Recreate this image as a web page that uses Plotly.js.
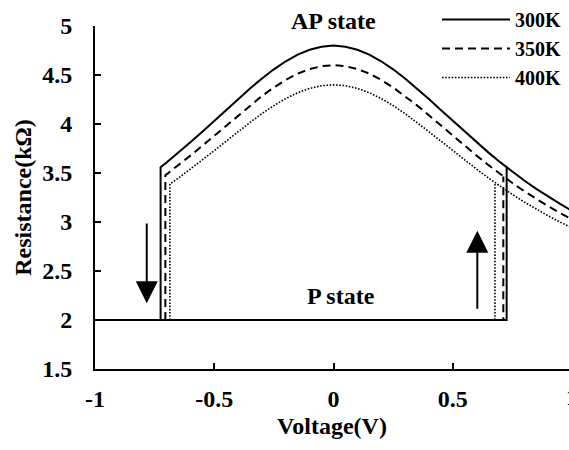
<!DOCTYPE html>
<html>
<head>
<meta charset="utf-8">
<script src="https://cdn.plot.ly/plotly-3.0.1.min.js"></script>
<style>
  html, body { margin: 0; padding: 0; background: #fff; }
  #chart { width: 569px; height: 450px; }
</style>
</head>
<body>
<div id="chart"></div>
<script>
// MTJ resistance vs bias voltage: AP branch and P branch for three temperatures
const temps = ['300K', '350K', '400K'];

// AP-state branch (kOhm) from the AP->P switching voltage up to +1 V
const v300 = [-0.725,-0.70,-0.65,-0.60,-0.55,-0.50,-0.45,-0.40,-0.35,-0.30,-0.25,-0.20,-0.15,-0.10,-0.05,0,0.05,0.10,0.15,0.20,0.25,0.30,0.35,0.40,0.45,0.50,0.55,0.60,0.65,0.70,0.726,0.75,0.80,0.85,0.90,0.95,1.00];
const r300 = [3.560,3.608,3.708,3.813,3.921,4.032,4.143,4.254,4.362,4.465,4.558,4.640,4.708,4.758,4.789,4.800,4.789,4.758,4.708,4.640,4.558,4.465,4.362,4.254,4.143,4.032,3.921,3.813,3.708,3.608,3.558,3.513,3.423,3.338,3.258,3.184,3.114];

const v350 = [-0.705,-0.70,-0.65,-0.60,-0.55,-0.50,-0.45,-0.40,-0.35,-0.30,-0.25,-0.20,-0.15,-0.10,-0.05,0,0.05,0.10,0.15,0.20,0.25,0.30,0.35,0.40,0.45,0.50,0.55,0.60,0.65,0.70,0.712,0.75,0.80,0.85,0.90,0.95,1.00];
const r350 = [3.477,3.486,3.580,3.677,3.778,3.881,3.985,4.089,4.190,4.286,4.373,4.450,4.514,4.561,4.590,4.600,4.590,4.561,4.514,4.450,4.373,4.286,4.190,4.089,3.985,3.881,3.778,3.677,3.580,3.486,3.465,3.398,3.314,3.235,3.161,3.092,3.028];

const v400 = [-0.686,-0.65,-0.60,-0.55,-0.50,-0.45,-0.40,-0.35,-0.30,-0.25,-0.20,-0.15,-0.10,-0.05,0,0.05,0.10,0.15,0.20,0.25,0.30,0.35,0.40,0.45,0.50,0.55,0.60,0.65,0.677,0.70,0.75,0.80,0.85,0.90,0.95,1.00];
const r400 = [3.387,3.449,3.539,3.633,3.729,3.826,3.922,4.016,4.106,4.188,4.260,4.319,4.363,4.391,4.400,4.391,4.363,4.319,4.260,4.188,4.106,4.016,3.922,3.826,3.729,3.633,3.539,3.449,3.402,3.363,3.281,3.204,3.131,3.063,2.999,2.940];

// switching voltages: AP->P (negative) and P->AP (positive)
const vSwitchNeg = [-0.725, -0.705, -0.686];
const vSwitchPos = [0.726, 0.712, 0.677];
const rP = 2.0;           // P-state resistance (kOhm)
const vStart = -1.0;      // start of the P branch sweep

const xTicks = [-1, -0.5, 0, 0.5, 1];
const xTickText = ['-1', '-0.5', '0', '0.5', '1'];
const yTicks = [1.5, 2, 2.5, 3, 3.5, 4, 4.5, 5];
const yTickText = ['1.5', '2', '2.5', '3', '3.5', '4', '4.5', '5'];

const apV = [v300, v350, v400];
const apR = [r300, r350, r400];

const FONT = 'Liberation Serif, Times New Roman, serif';
const TXT = 24;
const dashes = ['solid', '8px,5px', '1.6px,1.6px'];
const widths = [2, 2, 1.6];

const traces = [];
temps.forEach((t, i) => {
  const vs = apV[i], rs = apR[i];
  // AP branch including the vertical AP->P drop at the negative switch voltage
  traces.push({
    x: [vSwitchNeg[i]].concat(vs),
    y: [rP].concat(rs),
    mode: 'lines', name: t, legendgroup: t,
    line: { color: '#000', width: widths[i], dash: dashes[i] }
  });
});
temps.forEach((t, i) => {
  const vs = apV[i], rs = apR[i];
  const rUp = rs[vs.indexOf(vSwitchPos[i])];
  // P branch and the vertical P->AP jump
  traces.push({
    x: [vStart, vSwitchPos[i], vSwitchPos[i]],
    y: [rP, rP, rUp],
    mode: 'lines', name: t, legendgroup: t, showlegend: false,
    line: { color: '#000', width: widths[i], dash: dashes[i] }
  });
});

const plotW = 569 - 95;
const xMax = -1 + plotW / 238.5;
const boldFont = (s) => ({ family: FONT, size: s, weight: 'bold', color: '#000' });

const layout = {
  width: 569, height: 450,
  margin: { l: 95, r: 0, t: 25, b: 81 },
  paper_bgcolor: '#fff', plot_bgcolor: '#fff',
  font: boldFont(TXT),
  showlegend: true,
  legend: {
    x: (437 - 95) / plotW, y: 1.075, xanchor: 'left', yanchor: 'top',
    bgcolor: 'rgba(0,0,0,0)', tracegroupgap: 0, itemwidth: 68,
    font: boldFont(20)
  },
  xaxis: {
    range: [-1, xMax], showgrid: false, zeroline: false,
    showline: true, linecolor: '#000', linewidth: 2,
    ticks: 'inside', ticklen: 6, tickwidth: 2, tickcolor: '#000',
    tickvals: xTicks.slice(0, 4), ticktext: xTickText.slice(0, 4),
    tickfont: boldFont(TXT),
    ticklabelstandoff: 7,
    title: { text: 'Voltage(V)', font: boldFont(TXT), standoff: 6 }
  },
  yaxis: {
    range: [1.5, 5], showgrid: false, zeroline: false,
    showline: true, linecolor: '#000', linewidth: 2,
    ticks: 'inside', ticklen: 6, tickwidth: 2, tickcolor: '#000',
    tickvals: yTicks, ticktext: yTickText,
    tickfont: boldFont(TXT),
    ticklabelstandoff: 16,
    title: { text: 'Resistance(kΩ)', font: boldFont(TXT), standoff: 4 }
  },
  annotations: [
    // last x tick label sits at the right edge of the figure
    { xref: 'paper', yref: 'paper', x: (xTicks[4] + 1) / (xMax + 1), y: 0, yshift: -28,
      text: xTickText[4], showarrow: false, xanchor: 'center', yanchor: 'middle',
      font: boldFont(TXT) },
    { xref: 'x', yref: 'paper', x: 0, y: 1.015, text: 'AP state', showarrow: false,
      xanchor: 'center', yanchor: 'middle', font: boldFont(TXT) },
    { xref: 'x', yref: 'y', x: 0.03, y: 2.24, text: 'P state', showarrow: false,
      xanchor: 'center', yanchor: 'middle', font: boldFont(TXT) },
    // switching direction arrows
    { xref: 'x', yref: 'y', axref: 'x', ayref: 'y', x: -0.783, y: 2.17, ax: -0.783, ay: 3.0,
      text: '', showarrow: true, arrowhead: 2, arrowsize: 2.2, arrowwidth: 2, arrowcolor: '#000' },
    { xref: 'x', yref: 'y', axref: 'x', ayref: 'y', x: 0.603, y: 2.91, ax: 0.603, ay: 2.1,
      text: '', showarrow: true, arrowhead: 2, arrowsize: 2.2, arrowwidth: 2, arrowcolor: '#000' }
  ]
};

Plotly.newPlot('chart', traces, layout, { displayModeBar: false, staticPlot: true });
</script>
</body>
</html>
